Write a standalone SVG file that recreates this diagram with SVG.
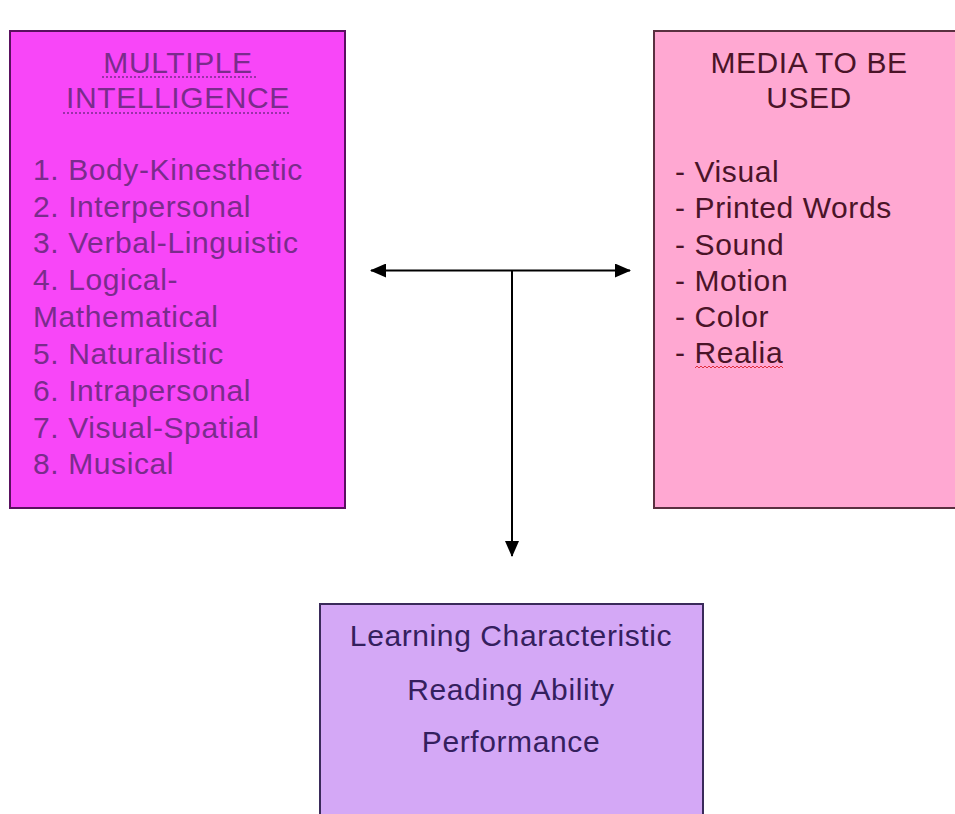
<svg xmlns="http://www.w3.org/2000/svg" width="955" height="814" viewBox="0 0 955 814">
<defs>
<style>
text{font-family:"Liberation Sans",Arial,sans-serif;font-size:30px;letter-spacing:0.6px}
.mi{fill:#7a2c8c}
.md{fill:#4a1428}
.lc{fill:#34205e}
.c{text-anchor:middle}
.conn{stroke:#000;stroke-width:2;fill:none}
</style>
<marker id="ah" viewBox="0 0 16 14" refX="15" refY="7" markerWidth="16" markerHeight="14" markerUnits="userSpaceOnUse" orient="auto-start-reverse">
<path d="M0,0 L16,7 L0,14 Z" fill="#000"/>
</marker>
</defs>
<rect width="955" height="814" fill="#fff"/>
<g id="multiple-intelligence">
<rect x="10" y="31" width="335" height="477" fill="#f846f8" stroke="#5a1060" stroke-width="2"/>
<text class="mi c" x="178" y="73">MULTIPLE</text>
<text class="mi c" x="178" y="108">INTELLIGENCE</text>
<line x1="102" y1="77" x2="257" y2="77" stroke="#7a2c8c" stroke-width="1.5" stroke-dasharray="2 2"/>
<line x1="63" y1="113" x2="291" y2="113" stroke="#7a2c8c" stroke-width="1.5" stroke-dasharray="2 2"/>
<text class="mi" x="33" y="180">1. Body-Kinesthetic</text>
<text class="mi" x="33" y="217">2. Interpersonal</text>
<text class="mi" x="33" y="253">3. Verbal-Linguistic</text>
<text class="mi" x="33" y="290">4. Logical-</text>
<text class="mi" x="33" y="327">Mathematical</text>
<text class="mi" x="33" y="364">5. Naturalistic</text>
<text class="mi" x="33" y="401">6. Intrapersonal</text>
<text class="mi" x="33" y="438">7. Visual-Spatial</text>
<text class="mi" x="33" y="474">8. Musical</text>
</g>
<g id="media-to-be-used">
<rect x="654" y="31" width="310" height="477" fill="#ffa8d2" stroke="#5a3040" stroke-width="2"/>
<text class="md c" x="809" y="73">MEDIA TO BE</text>
<text class="md c" x="809" y="108">USED</text>
<text class="md" x="675" y="182">- Visual</text>
<text class="md" x="675" y="218">- Printed Words</text>
<text class="md" x="675" y="255">- Sound</text>
<text class="md" x="675" y="291">- Motion</text>
<text class="md" x="675" y="327">- Color</text>
<text class="md" x="675" y="363">- Realia</text>
<path d="M695,368 l2,-2 l2,2 l2,-2 l2,2 l2,-2 l2,2 l2,-2 l2,2 l2,-2 l2,2 l2,-2 l2,2 l2,-2 l2,2 l2,-2 l2,2 l2,-2 l2,2 l2,-2 l2,2 l2,-2 l2,2 l2,-2 l2,2 l2,-2 l2,2 l2,-2 l2,2 l2,-2 l2,2 l2,-2 l2,2 l2,-2 l2,2 l2,-2 l2,2 l2,-2 l2,2 l2,-2 l2,2 l2,-2 l2,2 l2,-2 l2,2" stroke="#e03040" stroke-width="1" fill="none"/>
</g>
<g id="learning-characteristic">
<rect x="320" y="604" width="383" height="220" fill="#d4a8f6" stroke="#3a2a5a" stroke-width="2"/>
<text class="lc c" x="511" y="646">Learning Characteristic</text>
<text class="lc c" x="511" y="700">Reading Ability</text>
<text class="lc c" x="511" y="752">Performance</text>
</g>
<g id="connectors">
<line class="conn" x1="371" y1="270.5" x2="630" y2="270.5" marker-start="url(#ah)" marker-end="url(#ah)"/>
<line class="conn" x1="512" y1="270.5" x2="512" y2="556" marker-end="url(#ah)"/>
</g>
</svg>
